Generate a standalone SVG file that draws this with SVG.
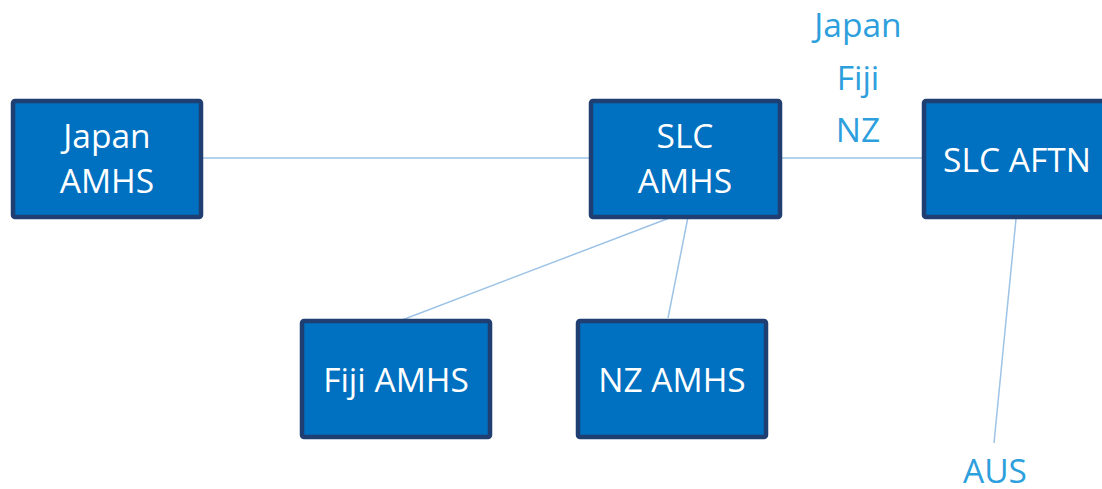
<svg xmlns="http://www.w3.org/2000/svg" width="1102" height="489" viewBox="0 0 1102 489">
  <style>
    .box { fill: #0070C0; stroke: #1F3F72; stroke-width: 4.5; }
    .lbl { font-family: "Open Sans", "Noto Sans", sans-serif; font-size: 33.5px; fill: #FFFFFF; text-anchor: middle; }
    .note { font-family: "Open Sans", "Noto Sans", sans-serif; font-size: 33.5px; fill: #2E9FDD; text-anchor: middle; }
    .link { stroke: #9DC3E6; stroke-width: 1.5; fill: none; }
  </style>
  <rect width="1102" height="489" fill="#FFFFFF"/>
  <g id="connectors">
    <line class="link" x1="203" y1="158" x2="589" y2="158"/>
    <line class="link" x1="782" y1="158" x2="922" y2="158"/>
    <line class="link" x1="672" y1="217" x2="402" y2="320"/>
    <line class="link" x1="688" y1="217" x2="668" y2="318"/>
    <line class="link" x1="1016" y1="219" x2="994" y2="443"/>
  </g>
  <g id="japan-amhs">
    <rect class="box" x="13" y="101" width="188" height="116" rx="2"/>
    <text class="lbl" x="107" y="148">Japan</text>
    <text class="lbl" x="107" y="193">AMHS</text>
  </g>
  <g id="slc-amhs">
    <rect class="box" x="591" y="101" width="189" height="116" rx="2"/>
    <text class="lbl" x="685" y="148">SLC</text>
    <text class="lbl" x="685" y="193">AMHS</text>
  </g>
  <g id="slc-aftn">
    <rect class="box" x="924" y="101" width="189" height="116" rx="2"/>
    <text class="lbl" x="1017" y="172">SLC AFTN</text>
  </g>
  <g id="fiji-amhs">
    <rect class="box" x="302" y="321" width="188" height="116" rx="2"/>
    <text class="lbl" x="396" y="392">Fiji AMHS</text>
  </g>
  <g id="nz-amhs">
    <rect class="box" x="578" y="321" width="188" height="116" rx="2"/>
    <text class="lbl" x="672" y="392">NZ AMHS</text>
  </g>
  <g id="link-note">
    <text class="note" x="858" y="37">Japan</text>
    <text class="note" x="858" y="90">Fiji</text>
    <text class="note" x="858" y="142">NZ</text>
  </g>
  <g id="aus">
    <text class="note" x="995" y="483">AUS</text>
  </g>
</svg>
